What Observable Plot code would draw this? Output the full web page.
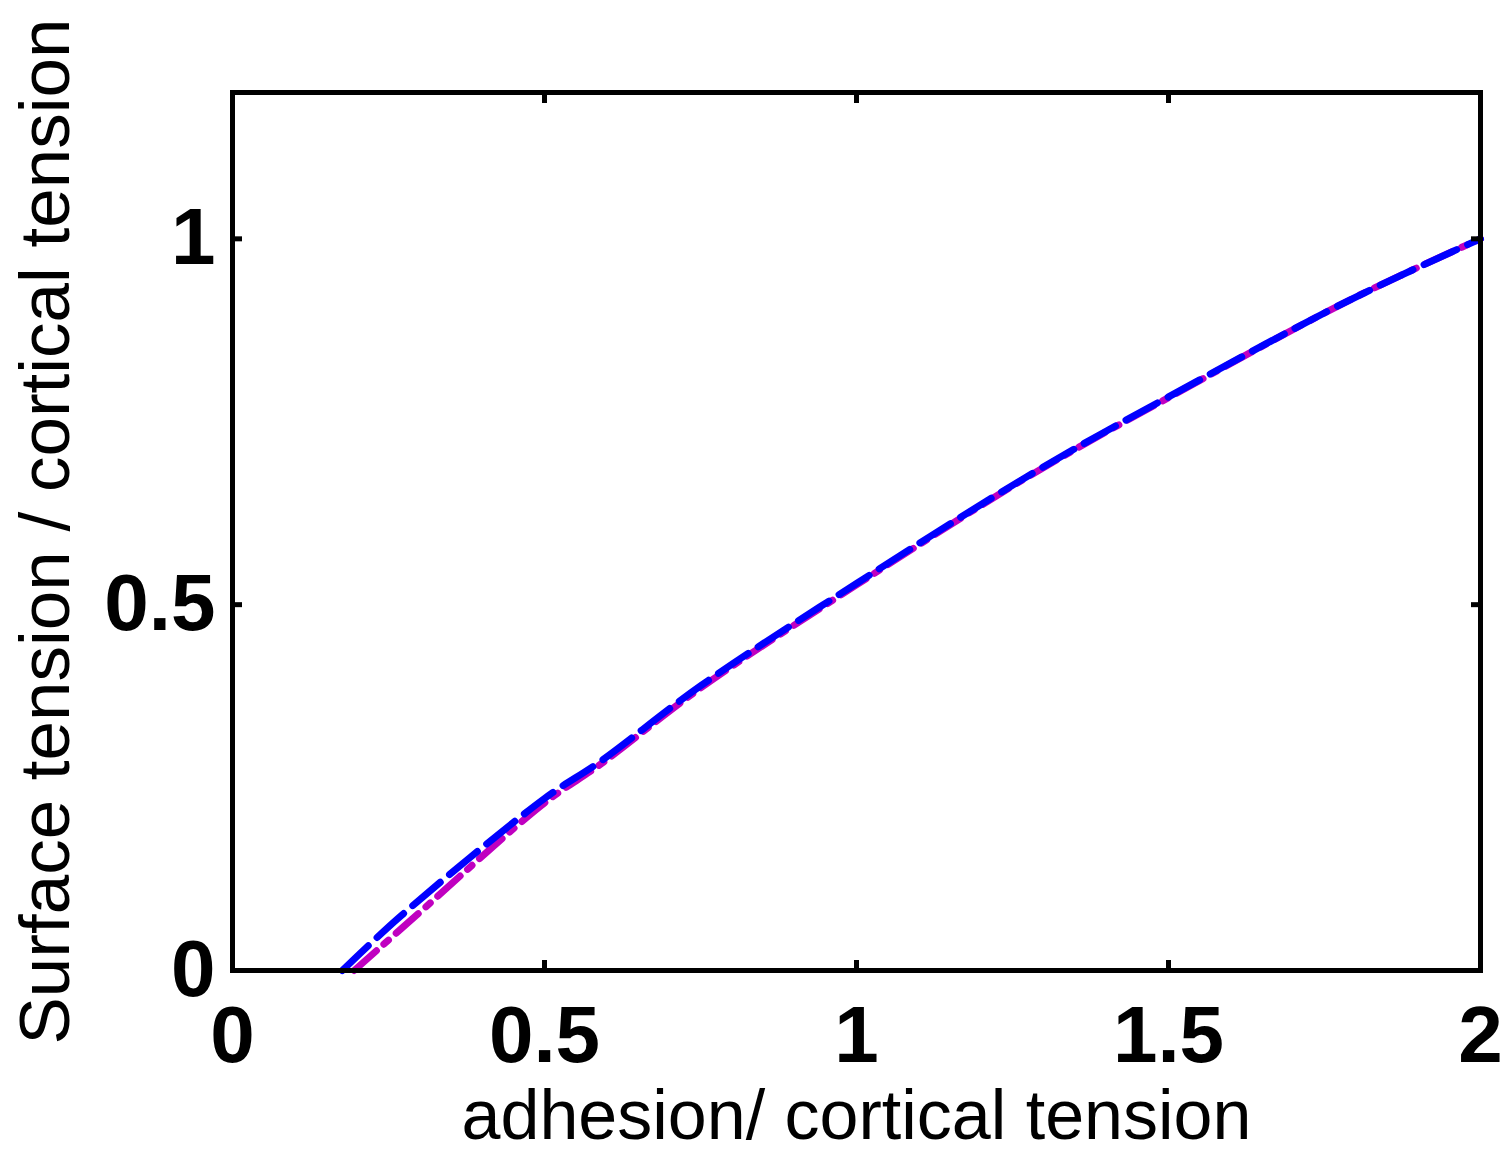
<!DOCTYPE html>
<html><head><meta charset="utf-8">
<script src="https://cdn.jsdelivr.net/npm/d3@7"></script>
<script src="https://cdn.jsdelivr.net/npm/@observablehq/plot@0.6"></script>
<style>body{margin:0;background:#fff} svg{display:block}</style>
</head><body><div id="chart"></div>
<script>
// Series
const blueX = [0.176, 0.269, 0.5, 0.59, 0.75, 1.0, 1.279, 1.5, 1.792, 2.0];
const blueY = [0.0, 0.074, 0.235, 0.286, 0.389, 0.529, 0.678, 0.784, 0.917, 1.0];
const magentaX = [0.195, 0.285, 0.5, 0.59, 0.75, 1.0, 1.279, 1.5, 1.792, 2.0];
const magentaY = [0.0, 0.068, 0.229, 0.282, 0.386, 0.527, 0.677, 0.783, 0.917, 1.0];
const xTicks = [0, 0.5, 1, 1.5, 2];
const yTicks = [0, 0.5, 1];
const xTitle = "adhesion/ cortical tension";
const yTitle = "Surface tension / cortical tension";

const blue = blueX.map((x, i) => ({x, y: blueY[i]}));
const magenta = magentaX.map((x, i) => ({x, y: magentaY[i]}));

const font = "'Liberation Sans', Arial, Helvetica, sans-serif";
const fmt = d => `${d}`;

const chart = Plot.plot({
  width: 1510,
  height: 1155,
  marginLeft: 232,
  marginRight: 30,
  marginTop: 92,
  marginBottom: 185,
  style: {fontFamily: font, background: "#fff", color: "#000"},
  x: {domain: [0, 2]},
  y: {domain: [0, 1.2]},
  marks: [
    Plot.line(magenta, {x: "x", y: "y", stroke: "#c000c0", strokeWidth: 7, strokeDasharray: "30,10,6,10", curve: "catmull-rom"}),
    Plot.line(blue, {x: "x", y: "y", stroke: "#0000ff", strokeWidth: 7, strokeDasharray: "36,12", curve: "catmull-rom"}),
    Plot.frame({stroke: "#000", strokeWidth: 5}),
    Plot.axisX(xTicks, {anchor: "bottom", tickSize: -10, tickPadding: 45, strokeWidth: 5, fontSize: 80, fontWeight: "bold", tickFormat: fmt, label: null}),
    Plot.axisX(xTicks, {anchor: "top", tickSize: -10, strokeWidth: 5, fill: "none", label: null}),
    Plot.axisY(yTicks, {anchor: "left", tickSize: -10, tickPadding: 27, strokeWidth: 5, fontSize: 80, fontWeight: "bold", tickFormat: fmt, label: null}),
    Plot.axisY(yTicks, {anchor: "right", tickSize: -10, strokeWidth: 5, fill: "none", label: null}),
    Plot.text([xTitle], {frameAnchor: "bottom", text: d => d, dy: 146, textAnchor: "middle", lineAnchor: "middle", fontSize: 70, fill: "#000"}),
    Plot.text([yTitle], {frameAnchor: "left", text: d => d, dx: -214, rotate: -90, textAnchor: "middle", lineAnchor: "top", fontSize: 71, fill: "#000"})
  ]
});
document.getElementById("chart").append(chart);
</script>
</body></html>
